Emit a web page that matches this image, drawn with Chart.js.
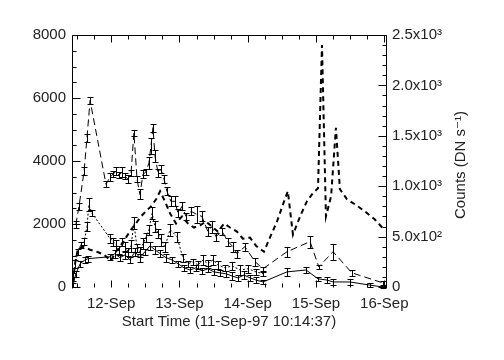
<!DOCTYPE html>
<html>
<head>
<meta charset="utf-8">
<script src="https://cdn.jsdelivr.net/npm/chart.js@4.4.1/dist/chart.umd.min.js"></script>
<style>
  body { margin: 0; background: #fff; }
</style>
</head>
<body>
<canvas id="lcChart" width="504" height="360"></canvas>
<script>
// time axis is in hours since 11-Sep-97 00:00 UT
var startHour = 10 + 14 / 60 + 37 / 3600;
var endHour = 120.6;

// upper curve, with error bars (left axis)
var aHours = [11.6, 12.7, 14.5, 15.5, 16.6, 22.2, 23.6, 24.7, 25.7, 26.8, 27.8, 28.9, 29.9, 31.0, 32.0, 33.1, 34.1, 35.2, 36.2, 37.3, 38.0, 38.7, 39.4, 40.5, 41.5, 42.6, 43.6, 45.0, 46.4, 47.5, 48.9, 50.3, 52.1, 54.2, 55.9, 58.0, 59.4, 60.8, 63.0, 65.1, 66.8, 68.2, 71.0, 74.6, 77.4, 85.8, 93.9, 97.0, 102.0, 108.6, 119.5];
var aCounts = [1980, 2560, 3680, 4740, 5920, 3260, 3490, 3580, 3680, 3550, 3650, 3520, 3420, 3620, 4900, 3420, 2940, 3580, 3650, 3940, 4480, 5060, 4160, 3620, 3740, 3420, 3040, 2720, 2720, 2340, 2560, 2240, 2400, 2300, 2240, 1760, 1920, 1600, 1760, 1440, 1280, 1060, 1280, 800, 580, 1120, 1440, 640, 1120, 450, 130];
var aErr = [100, 100, 130, 130, 100, 100, 130, 100, 130, 100, 160, 100, 130, 100, 100, 100, 160, 130, 100, 190, 260, 130, 190, 130, 130, 130, 130, 160, 160, 130, 130, 100, 130, 260, 160, 130, 190, 130, 100, 130, 160, 130, 130, 130, 60, 160, 190, 60, 260, 100, 60];

// middle curve, with error bars (left axis)
var cHours = [10.6, 11.3, 12.4, 13.4, 14.5, 15.5, 16.2, 17.3, 23.6, 24.7, 25.7, 26.8, 27.8, 28.9, 29.9, 31.0, 32.0, 33.1, 34.1, 35.2, 36.2, 37.3, 38.4, 39.4, 40.5, 41.5, 42.9, 44.7, 47.1, 49.2, 51.0, 52.8, 54.5, 56.3, 58.0, 59.8, 61.5, 64.0, 66.5, 69.3, 72.1, 74.9, 77.4];
var cCounts = [320, 740, 1120, 1340, 1440, 1920, 2620, 2340, 1540, 1440, 1340, 1180, 1440, 1280, 1120, 1310, 2020, 1250, 1120, 1380, 1570, 1820, 2340, 1920, 1700, 1500, 1280, 1820, 1600, 930, 740, 800, 700, 860, 740, 860, 700, 610, 670, 540, 580, 480, 420];
var cErr = [130, 130, 100, 100, 100, 130, 220, 100, 130, 130, 160, 130, 130, 160, 130, 190, 190, 130, 160, 160, 130, 160, 190, 160, 130, 190, 160, 190, 160, 130, 100, 100, 130, 160, 130, 160, 130, 100, 130, 160, 130, 100, 60];

// lower curve, with error bars (left axis)
var dHours = [10.6, 11.6, 13.1, 14.8, 15.9, 23.6, 25.3, 27.1, 28.9, 30.6, 32.4, 34.1, 35.9, 37.7, 39.4, 41.2, 43.3, 45.4, 47.5, 49.6, 51.7, 53.8, 56.0, 58.0, 60.1, 62.2, 64.3, 66.5, 68.6, 70.7, 72.8, 74.9, 77.4, 85.8, 92.5, 96.7, 99.9, 102.0, 107.9, 114.9, 119.5];
var dCounts = [60, 420, 740, 860, 900, 960, 1060, 930, 1020, 860, 1120, 930, 1120, 1310, 1180, 1060, 930, 860, 740, 610, 540, 610, 510, 580, 480, 450, 420, 350, 290, 380, 290, 220, 160, 480, 540, 260, 220, 160, 160, 60, 0];
var dErr = [60, 100, 100, 100, 100, 100, 130, 100, 130, 100, 130, 130, 100, 130, 130, 100, 130, 100, 100, 100, 100, 100, 100, 100, 100, 100, 100, 130, 100, 130, 100, 100, 60, 130, 100, 60, 100, 100, 100, 60, 30];

// count rate, DN/s (right axis)
var bHours = [10.6, 11.3, 12.4, 14.1, 16.6, 19.0, 21.5, 23.9, 25.7, 27.5, 29.2, 31.0, 32.7, 34.5, 36.2, 38.0, 39.8, 41.2, 42.9, 44.7, 46.8, 48.9, 51.0, 53.1, 55.2, 57.3, 59.4, 61.5, 63.7, 65.8, 68.2, 70.3, 72.8, 74.9, 77.7, 79.8, 82.3, 84.4, 86.1, 87.9, 90.4, 92.8, 94.9, 96.7, 98.1, 99.5, 101.3, 103.0, 104.4, 106.9, 109.7, 113.2, 116.7, 119.9];
var bRate = [50, 230, 390, 400, 370, 350, 320, 260, 350, 410, 490, 570, 630, 700, 750, 800, 870, 950, 850, 730, 630, 700, 630, 590, 610, 650, 600, 550, 630, 590, 550, 480, 490, 410, 350, 490, 650, 820, 950, 520, 700, 850, 930, 980, 2400, 700, 900, 1580, 970, 870, 820, 750, 670, 570];

var rightLabels = {0: '0', 500: '5.0x10²', 1000: '1.0x10³', 1500: '1.5x10³', 2000: '2.0x10³', 2500: '2.5x10³'};
var xTitle = 'Start Time (11-Sep-97 10:14:37)';
var yRightTitle = 'Counts (DN s⁻¹)';

var fontFamily = '"Liberation Sans", "DejaVu Sans", sans-serif';
var textColor = '#222';

function toPoints(hours, vals){
  var pts = [];
  for(var i = 0; i < hours.length; i++){
    pts.push({x: hours[i], y: vals[i]});
  }
  return pts;
}

function stepTicks(from, to, step){
  var t = [];
  for(var v = from; v <= to + 1e-6; v += step){
    t.push({value: v});
  }
  return t;
}

// vertical error bars with small caps
var errorBarPlugin = {
  id: 'errorBars',
  afterDatasetsDraw: function(chart){
    var ctx = chart.ctx;
    var area = chart.chartArea;
    var xs = chart.scales.x;
    ctx.save();
    ctx.beginPath();
    ctx.rect(area.left, area.top - 2, area.right - area.left, area.bottom - area.top + 4);
    ctx.clip();
    ctx.strokeStyle = '#000';
    ctx.lineWidth = 1;
    chart.data.datasets.forEach(function(ds){
      if(!ds.errs) return;
      var ys = chart.scales[ds.yAxisID];
      for(var i = 0; i < ds.data.length; i++){
        var px = Math.round(xs.getPixelForValue(ds.data[i].x)) + 0.5;
        var top = Math.round(ys.getPixelForValue(ds.data[i].y + ds.errs[i])) + 0.5;
        var bot = Math.round(ys.getPixelForValue(ds.data[i].y - ds.errs[i])) + 0.5;
        ctx.beginPath();
        ctx.moveTo(px, top); ctx.lineTo(px, bot);
        ctx.moveTo(px - 3, top); ctx.lineTo(px + 3, top);
        ctx.moveTo(px - 3, bot); ctx.lineTo(px + 3, bot);
        ctx.stroke();
      }
    });
    ctx.restore();
  }
};

// IDL style frame: left/top/right lines and inward ticks, right-hand title
var framePlugin = {
  id: 'frame',
  afterDraw: function(chart){
    var ctx = chart.ctx;
    var a = chart.chartArea;
    var L = Math.round(a.left) + 0.5, R = Math.round(a.right) + 0.5;
    var T = Math.round(a.top) + 0.5, B = Math.round(a.bottom) + 0.5;
    ctx.save();
    ctx.strokeStyle = '#000';
    ctx.lineWidth = 1;
    ctx.beginPath();
    ctx.moveTo(L, B + 1); ctx.lineTo(L, T); ctx.lineTo(R, T); ctx.lineTo(R, B + 1);

    chart.scales.x.ticks.forEach(function(t){
      var px = Math.round(chart.scales.x.getPixelForValue(t.value)) + 0.5;
      var len = (t.value % 24 === 0) ? 7 : 4;
      ctx.moveTo(px, B); ctx.lineTo(px, B - len);
      ctx.moveTo(px, T); ctx.lineTo(px, T + len);
    });
    chart.scales.y.ticks.forEach(function(t){
      var py = Math.round(chart.scales.y.getPixelForValue(t.value)) + 0.5;
      var len = (t.value % 2000 === 0) ? 8 : 4;
      ctx.moveTo(L, py); ctx.lineTo(L + len, py);
    });
    chart.scales.y1.ticks.forEach(function(t){
      var py = Math.round(chart.scales.y1.getPixelForValue(t.value)) + 0.5;
      var len = (t.value % 500 === 0) ? 8 : 4;
      ctx.moveTo(R, py); ctx.lineTo(R - len, py);
    });
    ctx.stroke();

    ctx.fillStyle = textColor;
    ctx.font = '15px ' + fontFamily;
    ctx.textAlign = 'center';
    ctx.textBaseline = 'middle';
    ctx.translate(a.right + 75, (a.top + a.bottom) / 2 + 4);
    ctx.rotate(-Math.PI / 2);
    ctx.fillText(yRightTitle, 0, 0);
    ctx.restore();
  }
};

var tickFont = {family: fontFamily, size: 15};

var lcChart = new Chart(document.getElementById('lcChart'), {
  type: 'line',
  data: {
    datasets: [{
      data: toPoints(aHours, aCounts),
      errs: aErr,
      yAxisID: 'y',
      borderColor: '#000',
      borderWidth: 1,
      borderDash: [7, 4]
    }, {
      data: toPoints(cHours, cCounts),
      errs: cErr,
      yAxisID: 'y',
      borderColor: '#000',
      borderWidth: 1,
      borderDash: [2, 2]
    }, {
      data: toPoints(dHours, dCounts),
      errs: dErr,
      yAxisID: 'y',
      borderColor: '#000',
      borderWidth: 1
    }, {
      data: toPoints(bHours, bRate),
      yAxisID: 'y1',
      borderColor: '#000',
      borderWidth: 2,
      borderDash: [5, 4]
    }]
  },
  options: {
    responsive: false,
    animation: false,
    devicePixelRatio: 1,
    layout: {padding: {top: 35, left: 0, right: 0, bottom: 0}},
    elements: {point: {radius: 0}, line: {tension: 0, fill: false}},
    plugins: {legend: {display: false}, tooltip: {enabled: false}},
    scales: {
      x: {
        type: 'linear',
        position: 'bottom',
        min: startHour,
        max: endHour,
        grid: {display: false, drawTicks: false},
        border: {display: false},
        afterBuildTicks: function(scale){ scale.ticks = stepTicks(12, 120, 6); },
        afterFit: function(scale){ scale.height = 73; },
        ticks: {
          autoSkip: false,
          maxRotation: 0,
          padding: 8,
          color: textColor,
          font: tickFont,
          callback: function(v){ return (v % 24 === 0) ? (11 + v / 24) + '-Sep' : ''; }
        },
        title: {display: true, text: xTitle, color: textColor, font: tickFont, padding: {top: 2, bottom: 29}}
      },
      y: {
        position: 'left',
        min: 0,
        max: 8000,
        grid: {display: false, drawTicks: false},
        border: {display: false},
        afterBuildTicks: function(scale){ scale.ticks = stepTicks(0, 8000, 500); },
        afterFit: function(scale){ scale.width = 72; },
        ticks: {
          autoSkip: false,
          padding: 6,
          color: textColor,
          font: tickFont,
          callback: function(v){ return (v % 2000 === 0) ? String(v) : ''; }
        }
      },
      y1: {
        position: 'right',
        min: 0,
        max: 2500,
        grid: {display: false, drawTicks: false},
        border: {display: false},
        afterBuildTicks: function(scale){ scale.ticks = stepTicks(0, 2500, 100); },
        afterFit: function(scale){ scale.width = 118; },
        ticks: {
          autoSkip: false,
          padding: 6,
          color: textColor,
          font: tickFont,
          callback: function(v){ return rightLabels[v] !== undefined ? rightLabels[v] : ''; }
        }
      }
    }
  },
  plugins: [errorBarPlugin, framePlugin]
});
</script>
</body>
</html>
